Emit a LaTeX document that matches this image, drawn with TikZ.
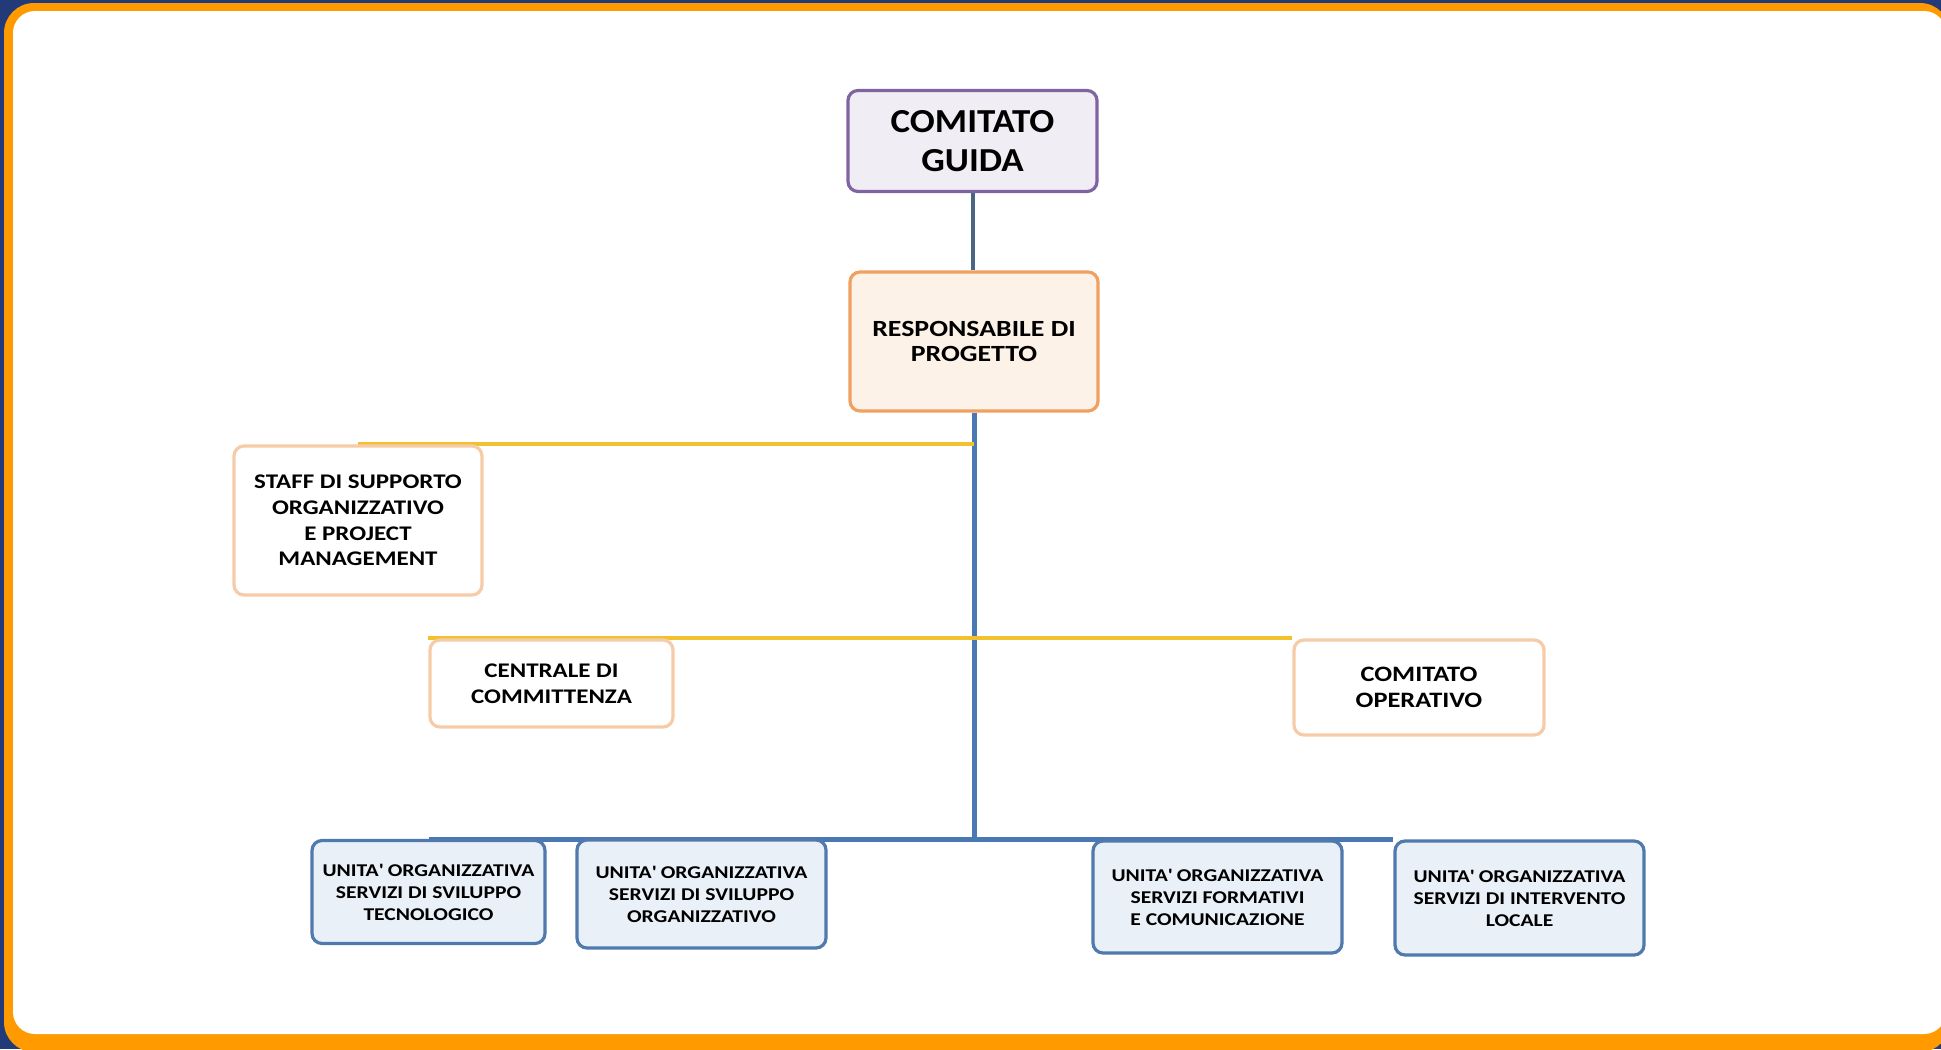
\documentclass[tikz,border=0pt]{standalone}
\usepackage{fontspec}
\setmainfont{Carlito}[FakeStretch=1.2]
\newfontfamily\guidafont{Carlito}[FakeStretch=1.1]
\usetikzlibrary{backgrounds}
\definecolor{navy}{HTML}{233A78}
\definecolor{frameorange}{HTML}{FF9A00}
\definecolor{guidaborder}{HTML}{8064A2}
\definecolor{guidafill}{HTML}{F0EDF5}
\definecolor{respborder}{HTML}{F0A060}
\definecolor{respfill}{HTML}{FDF2E8}
\definecolor{peach}{HTML}{F6CBA8}
\definecolor{unitborder}{HTML}{5079AE}
\definecolor{unitfill}{HTML}{EAF0F8}
\definecolor{spine}{HTML}{4A78B4}
\definecolor{slate}{HTML}{4B6584}
\definecolor{gold}{HTML}{F2C12E}
\begin{document}
\begin{tikzpicture}[x=0.5pt,y=-0.5pt,
    box/.style={rounded corners=5pt,line width=1.6pt,align=center,inner sep=0pt,font=\bfseries},
    guidabox/.style={box,draw=guidaborder,fill=guidafill,font=\guidafont\bfseries\fontsize{16.8}{19.5}\selectfont},
    respbox/.style={box,draw=respborder,fill=respfill,font=\bfseries\fontsize{11.6}{12.6}\selectfont},
    staffbox/.style={box,draw=peach,fill=white,font=\bfseries\fontsize{10.4}{12.8}\selectfont},
    unitbox/.style={box,draw=unitborder,fill=unitfill,font=\bfseries\fontsize{9}{11}\selectfont}]
    \useasboundingbox (0,0) rectangle (1941,1049);
    % boxes
    \node[guidabox,minimum width=124.5pt,minimum height=50.5pt] (guida) at (972.5,141) {COMITATO\\GUIDA};
    \node[respbox,minimum width=124pt,minimum height=69.5pt] (resp) at (974,341.5) {RESPONSABILE DI\\PROGETTO};
    \node[staffbox,minimum width=124pt,minimum height=74.5pt] (staff) at (358,520.5) {STAFF DI SUPPORTO\\ORGANIZZATIVO\\E PROJECT\\MANAGEMENT};
    \node[staffbox,minimum width=121.5pt,minimum height=43.5pt] (centrale) at (551.5,683.5) {CENTRALE DI\\COMMITTENZA};
    \node[staffbox,minimum width=125pt,minimum height=47.5pt,font=\bfseries\fontsize{11}{12.8}\selectfont] (operativo) at (1419,687.5) {COMITATO\\OPERATIVO};
    \node[unitbox,minimum width=116.5pt,minimum height=51.5pt] (tecnologico) at (428.5,892) {UNITA\textquotesingle\ ORGANIZZATIVA\\SERVIZI DI SVILUPPO\\TECNOLOGICO};
    \node[unitbox,minimum width=124.5pt,minimum height=54pt] (organizzativo) at (701.5,894) {UNITA\textquotesingle\ ORGANIZZATIVA\\SERVIZI DI SVILUPPO\\ORGANIZZATIVO};
    \node[unitbox,minimum width=124.5pt,minimum height=56pt] (formativi) at (1217.5,897) {UNITA\textquotesingle\ ORGANIZZATIVA\\SERVIZI FORMATIVI\\E COMUNICAZIONE};
    \node[unitbox,minimum width=124.5pt,minimum height=57pt] (locale) at (1519.5,898) {UNITA\textquotesingle\ ORGANIZZATIVA\\SERVIZI DI INTERVENTO\\LOCALE};
    \coordinate (hub) at (974,839);
    \begin{scope}[on background layer]
        % frame
        \fill[navy] (0,0) rectangle (1941,1049);
        \fill[frameorange,rounded corners=15pt] (4,3) rectangle (1950,1052);
        \fill[white,rounded corners=11pt] (13,11) rectangle (1946,1034);
        % connectors
        \draw[slate,line width=2pt] (guida.south) -- (guida.south |- resp.north);
        \draw[spine,line width=2.5pt] (resp.south) -- (hub);
        \draw[spine,line width=2.5pt] (tecnologico.north |- hub) -- (locale.north west |- hub);
        \draw[gold,line width=2pt] (staff.north) -- (staff.north -| hub);
        \draw[gold,line width=2pt] (centrale.north west) -- (operativo.north west);
    \end{scope}
\end{tikzpicture}
\end{document}
